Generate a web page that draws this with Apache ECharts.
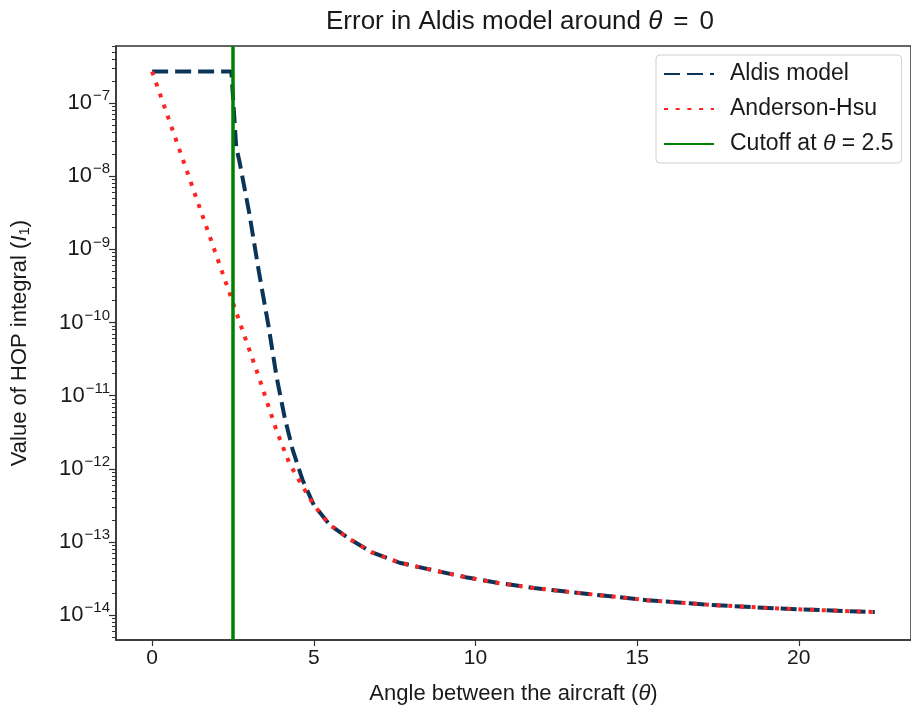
<!DOCTYPE html>
<html>
<head>
<meta charset="utf-8">
<script src="https://cdn.jsdelivr.net/npm/echarts@6/dist/echarts.min.js"></script>
<style>
  html, body { margin: 0; padding: 0; background: #fff; }
  #chart { width: 911px; height: 715px; }
</style>
</head>
<body>
<div id="chart"></div>
<script>
// values
const aldisTheta = [0, 2.45, 2.6, 2.7, 3.0, 3.3, 3.6, 3.85, 4.1, 4.35, 4.65];
const aldisVal = [2.7e-7, 2.7e-7, 2.5e-8, 1.6e-8, 3.2e-9, 5.0e-10, 8.9e-11, 1.8e-11, 5.0e-12, 1.8e-12, 7.1e-13];

const ahsuTheta = [0, 3.3, 3.84, 4.24, 4.6];
const ahsuVal = [2.7e-7, 1.8e-11, 3.4e-12, 1.2e-12, 6.3e-13];

// both models agree from about theta = 5 on
const tailTheta = [5.0, 5.5, 6.1, 6.8, 7.65, 8.7, 9.7, 10.7, 11.8, 12.8, 15.3, 17.3, 19.4, 22.35];
const tailVal = [3.2e-13, 1.7e-13, 1.1e-13, 7.2e-14, 5.2e-14, 4.1e-14, 3.3e-14, 2.75e-14, 2.35e-14, 2.1e-14, 1.6e-14, 1.38e-14, 1.23e-14, 1.1e-14];

const cutoff = 2.5;
const xTicks = [0, 5, 10, 15, 20];
const yDecades = [-14, -13, -12, -11, -10, -9, -8, -7];

// log10 axis limits
const yMin = -14.34, yMax = -6.22;
const xMin = -1.1175, xMax = 23.47;

function toPts(th, v) {
    return th.map((t, i) => [t, Math.log10(v[i])]);
}

let minorTicks = [];
for (let n = -15; n <= -7; n++) {
    for (let k = 2; k <= 9; k++) {
        let e = n + Math.log10(k);
        if (e > yMin && e < yMax) minorTicks.push(e);
    }
}

const font = 'Liberation Sans, Arial, sans-serif';
const ink = '#1a1a1a';

let chart = echarts.init(document.getElementById('chart'));
chart.setOption({
    animation: false,
    backgroundColor: '#fff',
    textStyle: { fontFamily: font, color: ink },
    title: {
        text: 'Error in Aldis model around {i|θ}{eq|=}0',
        left: 515,
        top: 4,
        textAlign: 'center',
        textStyle: {
            fontSize: 26, fontWeight: 'normal', color: ink, fontFamily: font,
            rich: {
                i: { fontSize: 26, fontStyle: 'italic', color: ink, fontFamily: font },
                eq: { fontSize: 26, color: ink, fontFamily: font, padding: [0, 11, 0, 11] }
            }
        }
    },
    grid: {
        left: 116, right: 0, top: 46, bottom: 75,
        show: true, borderColor: '#333', borderWidth: 1.5
    },
    legend: {
        orient: 'vertical',
        left: 656, top: 55,
        itemWidth: 50, itemHeight: 14, itemGap: 11,
        padding: [7, 8, 7, 7],
        backgroundColor: '#fff',
        borderColor: '#d0d0d0', borderWidth: 1, borderRadius: 4,
        itemStyle: { opacity: 0 },
        textStyle: {
            fontSize: 23, color: ink, fontFamily: font, lineHeight: 24, padding: [0, 0, 0, 11],
            rich: {
                i: { fontSize: 23, fontStyle: 'italic', color: ink, fontFamily: font }
            }
        },
        formatter: function (name) {
            return name.replace('θ', '{i|θ}');
        },
        data: ['Aldis model', 'Anderson-Hsu', 'Cutoff at θ = 2.5']
    },
    xAxis: {
        type: 'value',
        min: xMin, max: xMax,
        name: 'Angle between the aircraft ({i|θ})',
        nameLocation: 'middle',
        nameGap: 43,
        nameTextStyle: {
            fontSize: 22, color: ink, fontFamily: font,
            rich: { i: { fontSize: 22, fontStyle: 'italic', color: ink, fontFamily: font } }
        },
        axisLine: { onZero: false, lineStyle: { color: '#333', width: 1.5 } },
        axisTick: { customValues: xTicks, length: 6, lineStyle: { color: '#333', width: 1.2 } },
        axisLabel: { customValues: xTicks, fontSize: 21, color: ink, margin: 8 },
        splitLine: { show: false }
    },
    yAxis: [{
        type: 'value',
        min: yMin, max: yMax,
        name: '{n|Value of HOP integral (}{i|I}{sb|1}{n|)}',
        nameLocation: 'middle',
        nameGap: 84,
        nameRotate: 90,
        nameTextStyle: {
            color: ink,
            rich: {
                n: { fontSize: 22, color: ink, fontFamily: font },
                i: { fontSize: 22, fontStyle: 'italic', color: ink, fontFamily: font },
                sb: { fontSize: 15, color: ink, fontFamily: font, padding: [9, 0, 0, 0] }
            }
        },
        axisLine: { onZero: false, lineStyle: { color: '#333', width: 1.5 } },
        axisTick: { customValues: yDecades, length: 7, lineStyle: { color: '#333', width: 1.2 } },
        axisLabel: {
            customValues: yDecades,
            margin: 6,
            formatter: function (v) {
                return '{b|10}{s|−' + Math.round(-v) + '}';
            },
            rich: {
                b: { fontSize: 22, color: ink, fontFamily: font },
                s: { fontSize: 15, color: ink, fontFamily: font, padding: [0, 0, 14, 1] }
            }
        },
        splitLine: { show: false }
    }, {
        type: 'value',
        min: yMin, max: yMax,
        position: 'left',
        axisLine: { show: false, onZero: false },
        axisTick: { customValues: minorTicks, length: 4, lineStyle: { color: '#333', width: 1 } },
        axisLabel: { show: false },
        splitLine: { show: false }
    }],
    series: [{
        name: 'Aldis model',
        type: 'line',
        showSymbol: false,
        symbol: 'none',
        data: toPts(aldisTheta.concat(tailTheta), aldisVal.concat(tailVal)),
        lineStyle: { color: '#0b3558', width: 4, type: [16, 7] },
        itemStyle: { color: '#0b3558' },
        z: 2
    }, {
        name: 'Anderson-Hsu',
        type: 'line',
        showSymbol: false,
        symbol: 'none',
        data: toPts(ahsuTheta.concat(tailTheta), ahsuVal.concat(tailVal)),
        lineStyle: { color: '#ff2424', width: 4, type: [4, 7.7] },
        itemStyle: { color: '#ff2424' },
        z: 3
    }, {
        name: 'Cutoff at θ = 2.5',
        type: 'line',
        symbol: 'none',
        data: [],
        lineStyle: { color: '#008000', width: 3.5 },
        itemStyle: { color: '#008000' },
        markLine: {
            silent: true,
            symbol: ['none', 'none'],
            label: { show: false },
            lineStyle: { color: '#008000', width: 3.5, type: 'solid' },
            data: [{ xAxis: cutoff }]
        },
        z: 4
    }]
});
</script>
</body>
</html>
